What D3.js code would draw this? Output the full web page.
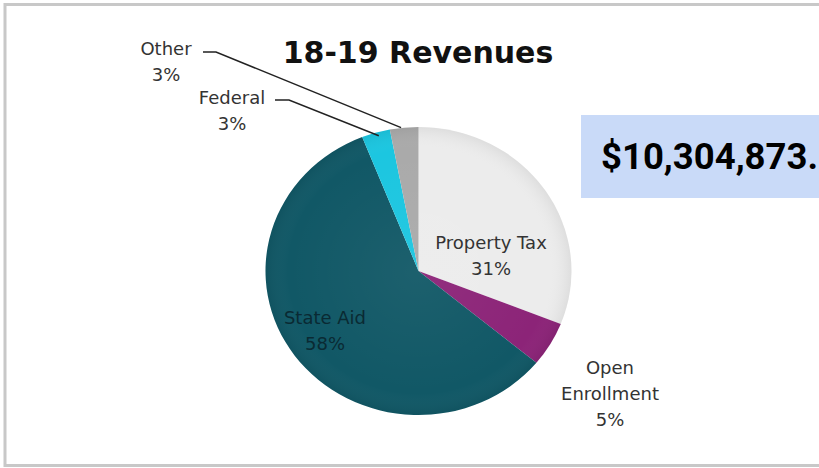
<!DOCTYPE html>
<html><head><meta charset="utf-8">
<script src="https://cdn.jsdelivr.net/npm/d3@7"></script>
<style>body{margin:0;background:#fff;}svg{display:block;}</style>
</head><body>
<svg id="c" width="819" height="468"></svg>
<script>
const categories = ["Property Tax", "Open Enrollment", "State Aid", "Federal", "Other"];
const values = [31, 5, 58, 3, 3];
const labels = ["31%", "5%", "58%", "3%", "3%"];
const colors = ["#ececec", "#8c2478", "#115866", "#1cc6e0", "#aaaaaa"];
const title = "18-19 Revenues";
const totalText = "$10,304,873.";

const svg = d3.select("#c");
svg.append("rect").attr("x",5).attr("y",4.5).attr("width",830).attr("height",461)
  .attr("fill","#fff").attr("stroke","#c8c8c8").attr("stroke-width",3);

const cx = 418.5, cy = 271, ry = 144, rx = 153;
const defs = svg.append("defs");
const rg = defs.append("radialGradient").attr("id","shade").attr("cx","50%").attr("cy","50%").attr("r","50%");
rg.append("stop").attr("offset","0%").attr("stop-color","#fff").attr("stop-opacity",0.05);
rg.append("stop").attr("offset","85%").attr("stop-color","#fff").attr("stop-opacity",0.0);
rg.append("stop").attr("offset","100%").attr("stop-color","#000").attr("stop-opacity",0.06);

const pie = d3.pie().sort(null).value(d=>d);
const arcs = pie(values);
const arc = d3.arc().innerRadius(0).outerRadius(ry);
const g = svg.append("g").attr("transform",`translate(${cx},${cy}) scale(${rx/ry},1)`);
g.selectAll("path.s").data(arcs).join("path").attr("class","s")
  .attr("d",arc).attr("fill",(d,i)=>colors[i]);
g.append("circle").attr("r",ry).attr("fill","url(#shade)");

const font = "DejaVu Sans, sans-serif";
svg.append("text").attr("x",418).attr("y",63).attr("text-anchor","middle")
  .attr("font-family",font).attr("font-weight",700).attr("font-size",30).attr("fill","#111").text(title);

function lbl(x,y,lines,col){
  const t = svg.append("text").attr("font-family",font).attr("font-size",18).attr("fill",col||"#333").attr("text-anchor","middle");
  lines.forEach((l,k)=>t.append("tspan").attr("x",x).attr("y",y+k*26).text(l));
}
function pos(i, f){
  const a = (arcs[i].startAngle+arcs[i].endAngle)/2;
  return [cx + Math.sin(a)*rx*f, cy - Math.cos(a)*ry*f];
}
lbl(491, 249, [categories[0], labels[0]]);
lbl(325, 324, ["State Aid", labels[2]], "#0a2a33");
lbl(610, 374, ["Open", "Enrollment", labels[1]]);
lbl(166, 55, [categories[4], labels[4]]);
lbl(232, 104, [categories[3], labels[3]]);

const pO = pos(4,1.0), pF = pos(3,1.0);
svg.append("polyline").attr("points",`203,52 216,52 ${pO[0]-3},${pO[1]}`).attr("fill","none").attr("stroke","#222").attr("stroke-width",1.5);
svg.append("polyline").attr("points",`275,100 289,100 ${pF[0]+3},${pF[1]+3}`).attr("fill","none").attr("stroke","#222").attr("stroke-width",1.5);

svg.append("rect").attr("x",581).attr("y",115).attr("width",260).attr("height",83).attr("fill","#c9daf8");
svg.append("text").attr("x",601).attr("y",169).attr("font-family","Roboto, sans-serif").attr("font-weight",700)
  .attr("font-size",36.5).attr("fill","#000").text(totalText);
</script>
</body></html>
